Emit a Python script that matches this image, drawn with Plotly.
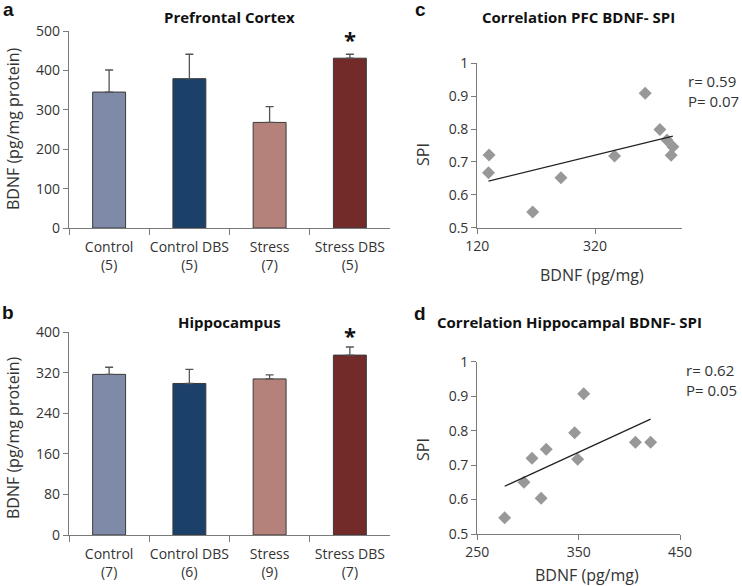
import numpy as np
import plotly.graph_objects as go

# ---------------- data ----------------
groups = ["Control", "Control DBS", "Stress", "Stress DBS"]
pfc_n = [5, 5, 7, 5]
pfc_mean = [345, 379, 268, 431]
pfc_sem = [56, 62, 40, 10]
hip_n = [7, 6, 9, 7]
hip_mean = [317, 299, 308, 355]
hip_sem = [14, 28, 8, 16]
bar_colors = ["#7f89a8", "#1b416a", "#b4827a", "#732b29"]

pfc_bdnf = [139, 140, 214, 262, 353, 405, 430, 442, 449, 452]
pfc_spi = [0.667, 0.721, 0.548, 0.652, 0.718, 0.909, 0.799, 0.767, 0.720, 0.746]
hip_bdnf = [277, 296, 304, 313, 318, 346, 349, 355, 406, 421]
hip_spi = [0.547, 0.650, 0.720, 0.604, 0.746, 0.794, 0.717, 0.907, 0.766, 0.766]

pfc_ticks = [0, 100, 200, 300, 400, 500]
hip_ticks = [0, 80, 160, 240, 320, 400]
spi_ticks = [0.5, 0.6, 0.7, 0.8, 0.9, 1]
spi_ticktext = ["0.5", "0.6", "0.7", "0.8", "0.9", "1"]
pfc_x_ticks = [120, 320]
hip_x_ticks = [250, 350, 450]

FONT = "Open Sans"
AXC = "#7a7a7a"
TXT = "#333333"

W, H = 742, 586
def px(x):
    return x / W
def py(y):
    return 1 - y / H

fig = go.Figure()

def bar_panel(means, sems, ns, xa, ya):
    labels = [f"{g}<br>({n})" for g, n in zip(groups, ns)]
    fig.add_trace(go.Bar(
        x=labels, y=means, xaxis=xa, yaxis=ya, width=0.41,
        marker=dict(color=bar_colors, line=dict(color="#3a3a3a", width=1)),
        error_y=dict(type="data", array=sems, arrayminus=[0] * len(sems),
                     symmetric=False, color="#555555", thickness=1.3, width=4),
        showlegend=False, hoverinfo="skip"))
    return labels

lab_a = bar_panel(pfc_mean, pfc_sem, pfc_n, "x", "y")
lab_b = bar_panel(hip_mean, hip_sem, hip_n, "x2", "y2")

def scatter_panel(xs, ys, xa, ya):
    fig.add_trace(go.Scatter(
        x=xs, y=ys, mode="markers", xaxis=xa, yaxis=ya,
        marker=dict(symbol="diamond", size=10, color="#989898"),
        showlegend=False, hoverinfo="skip"))
    k, b = np.polyfit(xs, ys, 1)
    xl = np.array([min(xs), max(xs)])
    fig.add_trace(go.Scatter(
        x=xl, y=k * xl + b, mode="lines", xaxis=xa, yaxis=ya,
        line=dict(color="#222222", width=1.3),
        showlegend=False, hoverinfo="skip"))

scatter_panel(pfc_bdnf, pfc_spi, "x3", "y3")
scatter_panel(hip_bdnf, hip_spi, "x4", "y4")

tickfont = dict(family=FONT, size=14, color=TXT)

common = dict(showline=True, linecolor=AXC, linewidth=1.3, ticks="outside",
              tickcolor=AXC, tickfont=tickfont, showgrid=False, zeroline=False,
              automargin=False)
bar_x = dict(common, type="category", range=[-0.5, 3.5], tickson="boundaries",
             ticklen=6, tickangle=0, ticklabelstandoff=6)
bar_y = dict(common, ticklen=5)
sc_x = dict(common, ticklen=5, tickangle=0)
sc_y = dict(common, ticklen=5, range=[0.5, 1], tickvals=spi_ticks, ticktext=spi_ticktext)

fig.update_layout(
    width=W, height=H, margin=dict(l=0, r=0, t=0, b=0, pad=0, autoexpand=False),
    paper_bgcolor="white", plot_bgcolor="white",
    xaxis=dict(bar_x, domain=[px(69), px(390)], anchor="y"),
    yaxis=dict(bar_y, domain=[py(228), py(31)], anchor="x", range=[0, 500], tickvals=pfc_ticks),
    xaxis2=dict(bar_x, domain=[px(69), px(390)], anchor="y2"),
    yaxis2=dict(bar_y, domain=[py(535), py(332.3)], anchor="x2", range=[0, 400], tickvals=hip_ticks),
    xaxis3=dict(sc_x, domain=[px(477.3), px(681.7)], anchor="y3", range=[120, 467], tickvals=pfc_x_ticks),
    yaxis3=dict(sc_y, domain=[py(227.7), py(63.3)], anchor="x3"),
    xaxis4=dict(sc_x, domain=[px(477.3), px(680)], anchor="y4", range=[250, 450], tickvals=hip_x_ticks),
    yaxis4=dict(sc_y, domain=[py(534), py(361.7)], anchor="x4"),
)

ann = []
def add_text(x, y, text, size=14, bold=False, xanchor="center", family=FONT, angle=0):
    t = f"<b>{text}</b>" if bold else text
    ann.append(dict(x=px(x), y=py(y), xref="paper", yref="paper", text=t, showarrow=False,
                    xanchor=xanchor, yanchor="middle", textangle=angle, align="left",
                    font=dict(family=family, size=size, color="#111111" if bold else TXT)))

add_text(8, 9, "a", size=19, bold=True, family="Liberation Sans")
add_text(8, 312, "b", size=19, bold=True, family="Liberation Sans")
add_text(420, 9, "c", size=19, bold=True, family="Liberation Sans")
add_text(420, 313, "d", size=19, bold=True, family="Liberation Sans")
add_text(229, 17, "Prefrontal Cortex", size=15, bold=True)
add_text(229, 322, "Hippocampus", size=15, bold=True)
add_text(578, 17, "Correlation PFC BDNF- SPI", size=15, bold=True)
add_text(569, 322, "Correlation Hippocampal BDNF- SPI", size=15, bold=True)
add_text(686, 91, "r= 0.59<br>P= 0.07", size=15, xanchor="left")
add_text(684, 380, "r= 0.62<br>P= 0.05", size=15, xanchor="left")
# axis titles
add_text(13, 129, "BDNF (pg/mg protein)", size=16, angle=-90)
add_text(13, 438, "BDNF (pg/mg protein)", size=16, angle=-90)
add_text(423, 155, "SPI", size=16, angle=-90)
add_text(423, 450, "SPI", size=16, angle=-90)
add_text(592, 275, "BDNF (pg/mg)", size=16)
add_text(587, 575, "BDNF (pg/mg)", size=16)

# significance asterisks above the Stress DBS bars
ann.append(dict(x=lab_a[3], y=pfc_mean[3] + pfc_sem[3], xref="x", yref="y", text="<b>*</b>",
                showarrow=False, yanchor="bottom", yshift=-2,
                font=dict(family=FONT, size=22, color="#111111")))
ann.append(dict(x=lab_b[3], y=hip_mean[3] + hip_sem[3], xref="x2", yref="y2", text="<b>*</b>",
                showarrow=False, yanchor="bottom", yshift=-5,
                font=dict(family=FONT, size=22, color="#111111")))
fig.update_layout(annotations=ann)

fig.write_html("out.html", config={"displayModeBar": False},
               post_script="document.body.style.margin='0';document.body.style.padding='0';")
